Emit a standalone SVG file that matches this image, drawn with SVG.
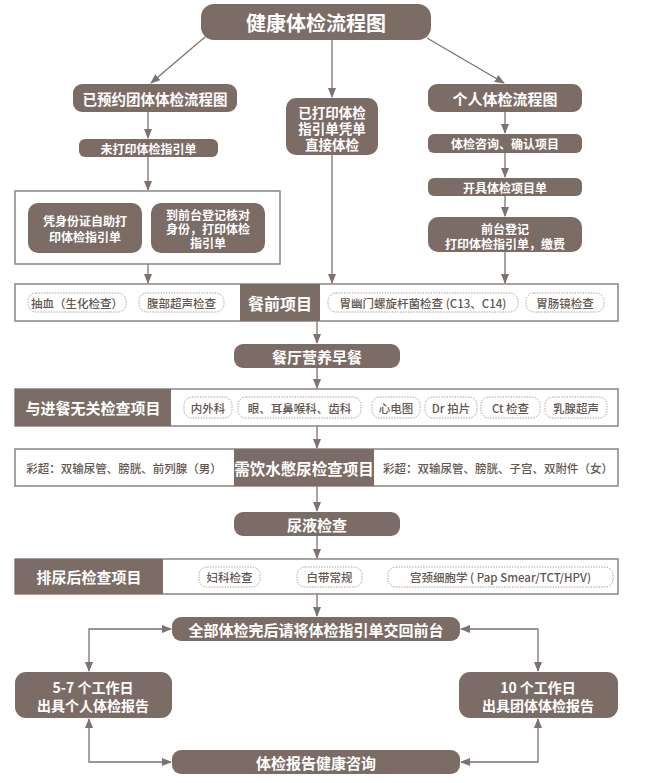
<svg xmlns="http://www.w3.org/2000/svg" width="656" height="783" viewBox="0 0 656 783">
<style>
.box{fill:#7b6c65}
.t{font-family:"Noto Sans CJK SC","Noto Sans",sans-serif;fill:#fff;font-weight:bold;text-anchor:middle;dominant-baseline:central}
.ln{stroke:#7d726d;stroke-width:1.3;fill:none}
.row{fill:#fff;stroke:#8d8480;stroke-width:1.5}
.pill{fill:#fff;stroke:#a39a96;stroke-width:0.9;stroke-dasharray:1.5 1.2}
.pt{font-family:"Noto Sans CJK SC","Noto Sans",sans-serif;fill:#62564f;font-size:11.5px;font-weight:500;text-anchor:middle;dominant-baseline:central}
</style>
<defs>
<marker id="ah" markerWidth="10" markerHeight="8" refX="9" refY="4" orient="auto-start-reverse" markerUnits="userSpaceOnUse">
<path d="M0,0 L10,4 L0,8 z" fill="#7d726d"/>
</marker>
</defs>
<rect width="656" height="783" fill="#fff"/>

<g id="connectors">
<line class="ln" x1="205" y1="37" x2="151" y2="83" marker-end="url(#ah)"/>
<line class="ln" x1="332" y1="40" x2="332" y2="97" marker-end="url(#ah)"/>
<line class="ln" x1="427" y1="38" x2="504" y2="83" marker-end="url(#ah)"/>
<line class="ln" x1="148" y1="112" x2="148" y2="138" marker-end="url(#ah)"/>
<line class="ln" x1="148" y1="157" x2="148" y2="190" marker-end="url(#ah)"/>
<line class="ln" x1="148" y1="264" x2="148" y2="283" marker-end="url(#ah)"/>
<line class="ln" x1="332" y1="155" x2="332" y2="283" marker-end="url(#ah)"/>
<line class="ln" x1="505" y1="112" x2="505" y2="133" marker-end="url(#ah)"/>
<line class="ln" x1="505" y1="153" x2="505" y2="177" marker-end="url(#ah)"/>
<line class="ln" x1="505" y1="196" x2="505" y2="216" marker-end="url(#ah)"/>
<line class="ln" x1="505" y1="252" x2="505" y2="283" marker-end="url(#ah)"/>
<line class="ln" x1="317" y1="321" x2="317" y2="343" marker-end="url(#ah)"/>
<line class="ln" x1="317" y1="368" x2="317" y2="388" marker-end="url(#ah)"/>
<line class="ln" x1="317" y1="426" x2="317" y2="448" marker-end="url(#ah)"/>
<line class="ln" x1="317" y1="486" x2="317" y2="511" marker-end="url(#ah)"/>
<line class="ln" x1="317" y1="536" x2="317" y2="558" marker-end="url(#ah)"/>
<line class="ln" x1="317" y1="594" x2="317" y2="616" marker-end="url(#ah)"/>
<path class="ln" d="M171,629 H89 V671" marker-start="url(#ah)" marker-end="url(#ah)"/>
<path class="ln" d="M461,629 H538 V671" marker-start="url(#ah)" marker-end="url(#ah)"/>
<path class="ln" d="M89,719 V762 H171" marker-start="url(#ah)" marker-end="url(#ah)"/>
<path class="ln" d="M538,719 V762 H461" marker-start="url(#ah)" marker-end="url(#ah)"/>
</g>

<g id="title">
<rect class="box" x="201" y="4" width="230" height="36" rx="13"/>
<text class="t" x="316" y="22" font-size="20" font-weight="500">健康体检流程图</text>
</g>

<g id="group-flow">
<rect class="box" x="73" y="84" width="164" height="28" rx="9"/>
<text class="t" x="155" y="98" font-size="14.5">已预约团体体检流程图</text>
</g>

<g id="printed">
<rect class="box" x="286" y="98" width="92" height="57" rx="10"/>
<text class="t" font-size="13.5"><tspan x="332" y="112">已打印体检</tspan><tspan x="332" y="128">指引单凭单</tspan><tspan x="332" y="144">直接体检</tspan></text>
</g>

<g id="personal-flow">
<rect class="box" x="428" y="84" width="154" height="28" rx="9"/>
<text class="t" x="505" y="98" font-size="15">个人体检流程图</text>
</g>

<g id="not-printed">
<rect class="box" x="79" y="139" width="139" height="18" rx="6"/>
<text class="t" x="148.5" y="148" font-size="12">未打印体检指引单</text>
</g>

<g id="print-options">
<rect class="row" x="15" y="191" width="265" height="73"/>
<g id="self-print">
<rect class="box" x="28" y="203" width="114" height="50" rx="10"/>
<text class="t" font-size="12"><tspan x="85" y="220">凭身份证自助打</tspan><tspan x="85" y="236">印体检指引单</tspan></text>
</g>
<g id="desk-print">
<rect class="box" x="151" y="203" width="114" height="50" rx="10"/>
<text class="t" font-size="12"><tspan x="208" y="214">到前台登记核对</tspan><tspan x="208" y="228">身份，打印体检</tspan><tspan x="208" y="242">指引单</tspan></text>
</g>
</g>

<g id="consult">
<rect class="box" x="428" y="134" width="154" height="19" rx="6"/>
<text class="t" x="505" y="143.5" font-size="12">体检咨询、确认项目</text>
</g>

<g id="item-list">
<rect class="box" x="428" y="178" width="154" height="18" rx="6"/>
<text class="t" x="505" y="187" font-size="12">开具体检项目单</text>
</g>

<g id="front-desk">
<rect class="box" x="428" y="217" width="154" height="35" rx="10"/>
<text class="t" font-size="12"><tspan x="505" y="228">前台登记</tspan><tspan x="505" y="243">打印体检指引单，缴费</tspan></text>
</g>

<g id="pre-meal">
<rect class="row" x="15" y="284" width="603" height="37"/>
<rect class="box" x="240" y="284" width="80" height="37"/>
<text class="t" x="280" y="302.5" font-size="16">餐前项目</text>
<rect class="pill" x="28" y="293" width="98" height="19" rx="8"/>
<text class="pt" x="77" y="302.5">抽血（生化检查）</text>
<rect class="pill" x="139" y="293" width="85" height="19" rx="8"/>
<text class="pt" x="181.5" y="302.5">腹部超声检查</text>
<rect class="pill" x="328" y="293" width="190" height="19" rx="8"/>
<text class="pt" x="423" y="302.5">胃幽门螺旋杆菌检查 (C13、C14)</text>
<rect class="pill" x="526" y="293" width="78" height="19" rx="8"/>
<text class="pt" x="565" y="302.5">胃肠镜检查</text>
</g>

<g id="breakfast">
<rect class="box" x="234" y="344" width="166" height="24" rx="9"/>
<text class="t" x="317" y="356" font-size="15">餐厅营养早餐</text>
</g>

<g id="meal-independent">
<rect class="row" x="15" y="389" width="603" height="37"/>
<rect class="box" x="15" y="389" width="156" height="37"/>
<text class="t" x="93" y="407.5" font-size="15">与进餐无关检查项目</text>
<rect class="pill" x="184" y="397" width="48" height="21" rx="8"/>
<text class="pt" x="208" y="407.5">内外科</text>
<rect class="pill" x="238" y="397" width="123" height="21" rx="8"/>
<text class="pt" x="299.5" y="407.5">眼、耳鼻喉科、齿科</text>
<rect class="pill" x="372" y="397" width="48" height="21" rx="8"/>
<text class="pt" x="396" y="407.5">心电图</text>
<rect class="pill" x="425" y="397" width="52" height="21" rx="8"/>
<text class="pt" x="451" y="407.5">Dr 拍片</text>
<rect class="pill" x="481" y="397" width="59" height="21" rx="8"/>
<text class="pt" x="510.5" y="407.5">Ct 检查</text>
<rect class="pill" x="545" y="397" width="62" height="21" rx="8"/>
<text class="pt" x="576" y="407.5">乳腺超声</text>
</g>

<g id="full-bladder">
<rect class="row" x="15" y="449" width="603" height="37"/>
<rect class="box" x="234" y="449" width="140" height="37"/>
<text class="t" x="304" y="467.5" font-size="15.5">需饮水憋尿检查项目</text>
<text class="pt" x="124" y="467.5">彩超：双输尿管、膀胱、前列腺（男）</text>
<text class="pt" x="498" y="467.5">彩超：双输尿管、膀胱、子宫、双附件（女）</text>
</g>

<g id="urine">
<rect class="box" x="234" y="512" width="166" height="24" rx="9"/>
<text class="t" x="317" y="524" font-size="15">尿液检查</text>
</g>

<g id="post-urine">
<rect class="row" x="15" y="559" width="603" height="35"/>
<rect class="box" x="15" y="559" width="148" height="35"/>
<text class="t" x="89" y="576.5" font-size="15">排尿后检查项目</text>
<rect class="pill" x="199" y="567" width="61" height="20" rx="8"/>
<text class="pt" x="229.5" y="577">妇科检查</text>
<rect class="pill" x="297" y="567" width="65" height="20" rx="8"/>
<text class="pt" x="329.5" y="577">白带常规</text>
<rect class="pill" x="388" y="567" width="225" height="20" rx="8"/>
<text class="pt" x="500.5" y="577">宫颈细胞学 ( Pap Smear/TCT/HPV)</text>
</g>

<g id="return-guide">
<rect class="box" x="172" y="617" width="288" height="24" rx="9"/>
<text class="t" x="316" y="629" font-size="15">全部体检完后请将体检指引单交回前台</text>
</g>

<g id="personal-report">
<rect class="box" x="15" y="672" width="157" height="46" rx="11"/>
<text class="t" font-size="14"><tspan x="93" y="687">5-7 个工作日</tspan><tspan x="93" y="705">出具个人体检报告</tspan></text>
</g>

<g id="group-report">
<rect class="box" x="459" y="672" width="159" height="46" rx="11"/>
<text class="t" font-size="14"><tspan x="538" y="687">10 个工作日</tspan><tspan x="538" y="705">出具团体体检报告</tspan></text>
</g>

<g id="consultation">
<rect class="box" x="172" y="750" width="288" height="24" rx="9"/>
<text class="t" x="316" y="762" font-size="15">体检报告健康咨询</text>
</g>
</svg>
